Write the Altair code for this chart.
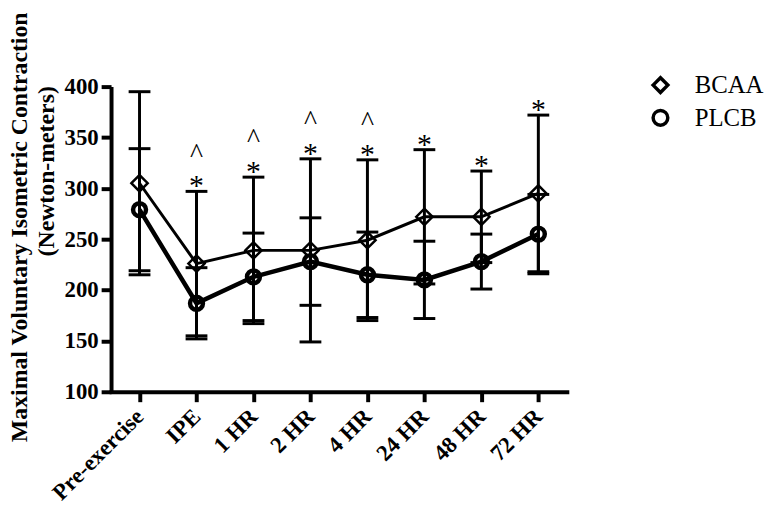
import altair as alt
import pandas as pd

categories = ["Pre-exercise", "IPE", "1 HR", "2 HR", "4 HR", "24 HR", "48 HR", "72 HR"]
bcaa_mean = [305, 226, 239, 239, 249, 272, 272, 295]
bcaa_sd = [90, 71, 72, 90, 79, 66, 45, 77]
plcb_mean = [279, 187, 213, 228, 215, 210, 228, 255]
plcb_sd = [60, 35, 43, 43, 42, 38, 27, 39]
star_marks = ["", "*", "*", "*", "*", "*", "*", "*"]
caret_marks = ["", "^", "^", "^", "^", "", "", ""]
series_names = ["BCAA", "PLCB"]

rows = []
for name, means, sds in [("BCAA", bcaa_mean, bcaa_sd), ("PLCB", plcb_mean, plcb_sd)]:
    for i, c in enumerate(categories):
        rows.append({"time": c, "series": name, "mean": means[i],
                     "lo": means[i] - sds[i], "hi": means[i] + sds[i],
                     "star": star_marks[i] if name == "BCAA" else "",
                     "caret": caret_marks[i] if name == "BCAA" else ""})
df = pd.DataFrame(rows)

FONT = "Liberation Serif"

x_enc = alt.X("time:N", sort=categories,
              scale=alt.Scale(type="point", padding=0.5),
              axis=alt.Axis(title=None, labelAngle=-45, labelAlign="right",
                            labelBaseline="middle", labelPadding=11))
y_scale = alt.Scale(domain=[100, 400], nice=False, zero=False)
y_axis = alt.Axis(values=[100, 150, 200, 250, 300, 350, 400],
                  title="(Newton-meters)",
                  titleFontSize=24, titleFontWeight="bold",
                  titlePadding=6, labelPadding=3, titleY=85)

legend = alt.Legend(title=None, orient="none", legendX=542, legendY=-14,
                    labelFont=FONT, labelFontSize=25,
                    labelFontWeight="normal", labelColor="black",
                    symbolStrokeWidth=3.5, symbolSize=220,
                    rowPadding=4, labelOffset=22)
shape_enc = alt.Shape("series:N",
                      scale=alt.Scale(domain=series_names, range=["diamond", "circle"]),
                      legend=legend)
color_enc = alt.Color("series:N",
                      scale=alt.Scale(domain=series_names, range=["black", "black"]),
                      legend=legend)

base = alt.Chart(df).encode(x=x_enc)

pts_bcaa = base.transform_filter(alt.datum.series == "BCAA").mark_point(
    filled=False, fill="white", opacity=1, size=270, strokeWidth=2.5
).encode(y=alt.Y("mean:Q", scale=y_scale, axis=y_axis), shape=shape_enc, color=color_enc)
pts_plcb = base.transform_filter(alt.datum.series == "PLCB").mark_point(
    filled=False, fill="white", opacity=1, size=170, strokeWidth=4.5
).encode(y=alt.Y("mean:Q", scale=y_scale), shape=shape_enc, color=color_enc)

line_bcaa = base.transform_filter(alt.datum.series == "BCAA").mark_line(
    color="black", strokeWidth=3).encode(y=alt.Y("mean:Q", scale=y_scale))
line_plcb = base.transform_filter(alt.datum.series == "PLCB").mark_line(
    color="black", strokeWidth=4.5).encode(y=alt.Y("mean:Q", scale=y_scale))

rules = base.mark_rule(color="black", strokeWidth=3).encode(
    y=alt.Y("lo:Q", scale=y_scale), y2="hi:Q")
caps_lo = base.mark_tick(color="black", size=22, thickness=3, opacity=1).encode(y=alt.Y("lo:Q", scale=y_scale))
caps_hi = base.mark_tick(color="black", size=22, thickness=3, opacity=1).encode(y=alt.Y("hi:Q", scale=y_scale))

stars = base.mark_text(font=FONT, fontSize=30, dy=-5, baseline="middle", color="black").encode(
    y=alt.Y("hi:Q", scale=y_scale), text="star:N")
carets = base.mark_text(font=FONT, fontSize=28, dy=-38, baseline="middle", color="black").encode(
    y=alt.Y("hi:Q", scale=y_scale), text="caret:N")

chart = alt.layer(pts_bcaa, pts_plcb, line_bcaa, line_plcb, rules, caps_lo, caps_hi,
                  stars, carets).properties(
    width=460, height=308, padding={"left": 0, "top": 1, "right": 0, "bottom": 5},
    title=alt.TitleParams("Maximal Voluntary Isometric Contraction", orient="left",
                          anchor="middle", font=FONT, fontSize=24, fontWeight="bold",
                          color="black", offset=2, dx=12)
).configure_view(stroke=None).configure_axis(
    labelFont=FONT, titleFont=FONT, labelFontSize=23, labelFontWeight="bold",
    labelColor="black", titleColor="black", domainColor="black", tickColor="black",
    domainWidth=4, tickWidth=4, tickSize=10, grid=False
).configure_axisX(domainCap="square")

chart.save("out.html", embed_options={"renderer": "svg", "actions": False})
